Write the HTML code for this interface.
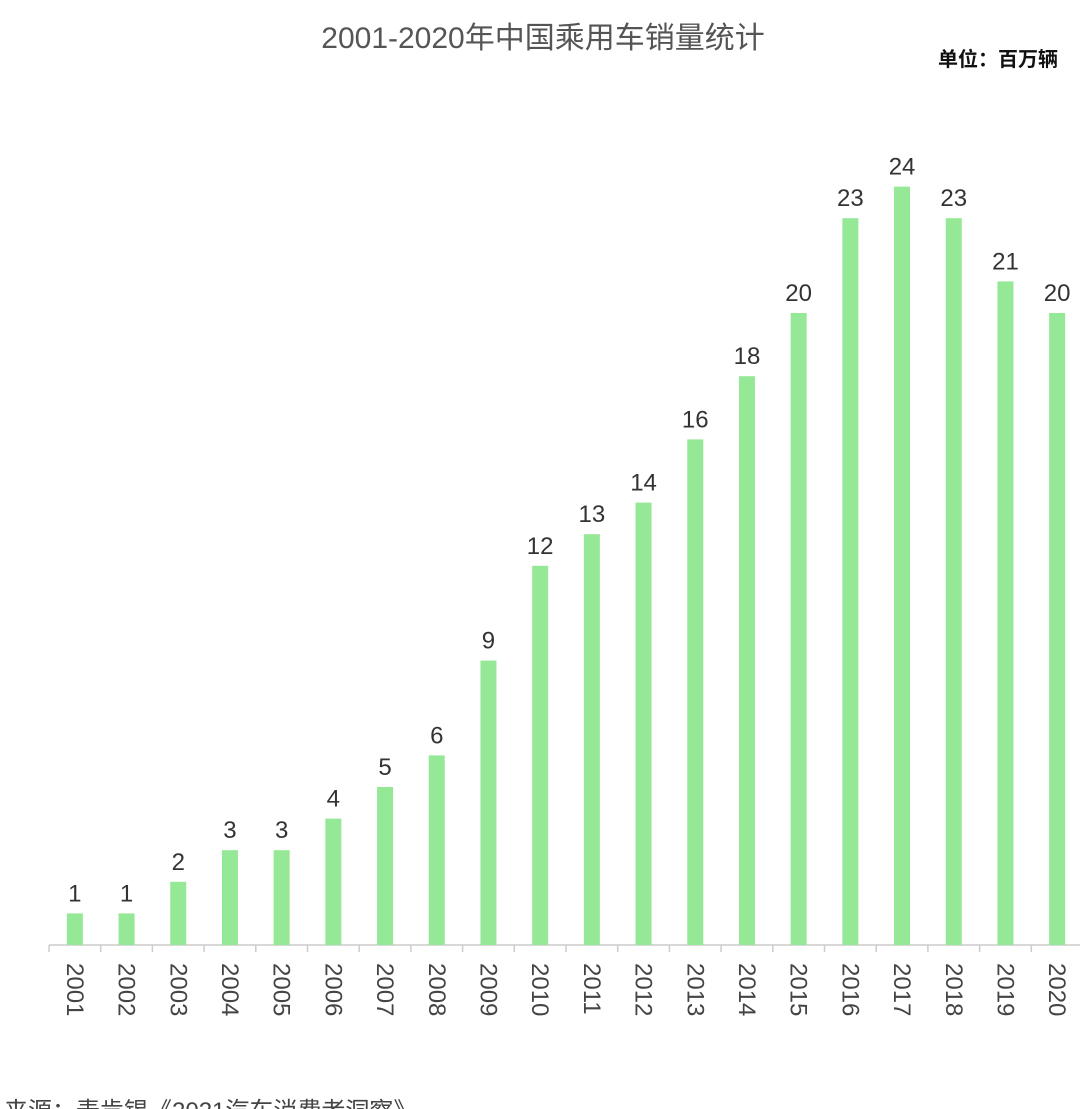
<!DOCTYPE html>
<html><head><meta charset="utf-8"><style>
body{margin:0;width:1080px;height:1109px;overflow:hidden;background:#fff;font-family:"Liberation Sans","Noto Sans CJK SC",sans-serif;}
</style></head><body>
<svg width="1080" height="1109" id="c" style="position:absolute;left:0;top:0">
<text x="543" y="48" text-anchor="middle" font-size="30" fill="#555" font-family="Liberation Sans, Noto Sans CJK SC, sans-serif">2001-2020年中国乘用车销量统计</text>
<text x="1058" y="66" text-anchor="end" font-size="20" fill="#111" font-weight="bold" font-family="Liberation Sans, Noto Sans CJK SC, sans-serif">单位：百万辆</text>
<text x="4" y="1119" font-size="24" fill="#444" font-family="Liberation Sans, Noto Sans CJK SC, sans-serif">来源：麦肯锡《2021汽车消费者洞察》</text>
</svg>
<script>
const categories=["2001","2002","2003","2004","2005","2006","2007","2008","2009","2010","2011","2012","2013","2014","2015","2016","2017","2018","2019","2020"];
const values=[1,1,2,3,3,4,5,6,9,12,13,14,16,18,20,23,24,23,21,20];
const svg=document.getElementById('c');const NS='http://www.w3.org/2000/svg';
const x0=49,step=51.7,base=945,unit=31.6;
const xs=i=>x0+step*(i+0.5);const ys=v=>base-v*unit;
function mk(t,a){const e=document.createElementNS(NS,t);for(const k in a)e.setAttribute(k,a[k]);svg.appendChild(e);return e;}
const ax=mk('line',{x1:x0,x2:1080,y1:base,y2:base,stroke:'#ccc','stroke-width':1.5});


for(let i=0;i<=categories.length;i++){
 const t=mk('line',{x1:x0+step*i,x2:x0+step*i,y1:base,y2:base+7,stroke:'#ccc','stroke-width':1.5});
 
 
}
categories.forEach((c,i)=>{
 const v=values[i],cx=xs(i);
 const r=mk('rect',{x:cx-8,y:ys(v),width:16,height:base-ys(v),fill:'#95e895'});
 
 
 const l=mk('text',{x:cx,y:ys(v)-12,'text-anchor':'middle','font-size':24,fill:'#333'});
 l.textContent=v;
 
 
 const xl=mk('text',{x:0,y:0,'font-size':24,fill:'#444',transform:`translate(${cx-8},963) rotate(90)`});
 xl.textContent=c;
 
 
});
</script>
</body></html>
